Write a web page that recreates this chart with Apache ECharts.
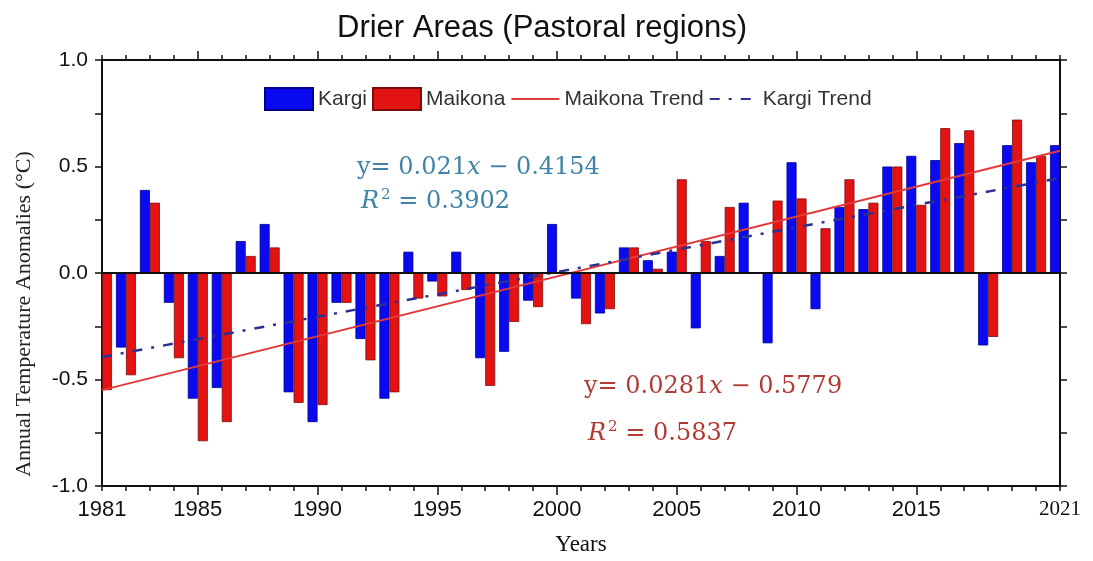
<!DOCTYPE html>
<html>
<head>
<meta charset="utf-8">
<script src="https://cdn.jsdelivr.net/npm/echarts@6/dist/echarts.min.js"></script>
<style>
  html, body { margin: 0; padding: 0; background: #fff; }
  #chart { width: 1093px; height: 561px; }
</style>
</head>
<body>
<div id="chart"></div>
<script>
// Annual temperature anomalies (°C), 1981–2021
const years = [
  1981, 1982, 1983, 1984, 1985, 1986, 1987, 1988, 1989, 1990,
  1991, 1992, 1993, 1994, 1995, 1996, 1997, 1998, 1999, 2000,
  2001, 2002, 2003, 2004, 2005, 2006, 2007, 2008, 2009, 2010,
  2011, 2012, 2013, 2014, 2015, 2016, 2017, 2018, 2019, 2020, 2021
];
const kargi = [
  null, -0.35, 0.39, -0.14, -0.59, -0.54, 0.15, 0.23, -0.56, -0.70,
  -0.14, -0.31, -0.59, 0.10, -0.04, 0.10, -0.40, -0.37, -0.13, 0.23,
  -0.12, -0.19, 0.12, 0.06, 0.10, -0.26, 0.08, 0.33, -0.33, 0.52,
  -0.17, 0.31, 0.30, 0.50, 0.55, 0.53, 0.61, -0.34, 0.60, 0.52, 0.60
];
const maikona = [
  -0.55, -0.48, 0.33, -0.40, -0.79, -0.70, 0.08, 0.12, -0.61, -0.62,
  -0.14, -0.41, -0.56, -0.12, -0.11, -0.08, -0.53, -0.23, -0.16, 0.00,
  -0.24, -0.17, 0.12, 0.02, 0.44, 0.15, 0.31, 0.00, 0.34, 0.35,
  0.21, 0.44, 0.33, 0.50, 0.32, 0.68, 0.67, -0.30, 0.72, 0.55, null
];

// Linear fits, x = year index (1981 -> 1)
const kargiFit = { slope: 0.021, intercept: -0.4154, r2: 0.3902 };
const maikonaFit = { slope: 0.0281, intercept: -0.5779, r2: 0.5837 };

const xLabelValues = [1981, 1985, 1990, 1995, 2000, 2005, 2010, 2015, 2021];
const xMajorTicks = [1985, 1990, 1995, 2000, 2005, 2010, 2015];

const firstYear = years[0];
const lastYear = years[years.length - 1];
function fitLine(fit) {
  return [firstYear, lastYear].map(y => [y, fit.slope * (y - firstYear + 1) + fit.intercept]);
}
const pairs = arr => years.map((y, i) => [y, arr[i]]);

const BLUE = '#0a0af2';
const RED = '#e41313';
const serif = "'Liberation Serif', 'Times New Roman', serif";
const sans = "'Liberation Sans', Arial, sans-serif";
const eqFont = "'DejaVu Serif', serif";

const chart = echarts.init(document.getElementById('chart'), null, { renderer: 'canvas' });

const frameLine = { lineStyle: { color: '#111', width: 2 } };

function eqText(fit, color) {
  const b = fit.intercept < 0 ? '\u2212 ' + Math.abs(fit.intercept) : '+ ' + fit.intercept;
  return {
    line1: '{n|y= ' + fit.slope + '}{i|x}{n| ' + b + '}',
    line2: '{i|R}{sup|2}{n| = ' + fit.r2.toFixed(4) + '}',
    rich: {
      n: { fontFamily: eqFont, fontSize: 24, fill: color, color: color },
      i: { fontFamily: eqFont, fontSize: 24, fontStyle: 'italic', fill: color, color: color },
      sup: { fontFamily: eqFont, fontSize: 15, fill: color, color: color, verticalAlign: 'top', padding: [0, 0, 12, 2] }
    }
  };
}
const kEq = eqText(kargiFit, '#3f84a6');
const mEq = eqText(maikonaFit, '#b23a34');

const option = {
  backgroundColor: '#fff',
  animation: false,
  title: {
    text: 'Drier Areas (Pastoral regions)',
    left: 537, top: 8, textAlign: 'center',
    textStyle: { fontFamily: sans, fontSize: 31, fontWeight: 'normal', color: '#111' }
  },
  legend: {
    left: 259, top: 82,
    itemWidth: 48, itemHeight: 22, itemGap: 5,
    textStyle: { fontFamily: sans, fontSize: 21, color: '#333' },
    data: [
      { name: 'Kargi', icon: 'rect' },
      { name: 'Maikona', icon: 'rect' },
      { name: 'Maikona Trend', itemStyle: { opacity: 0 } },
      { name: 'Kargi Trend', itemStyle: { opacity: 0 } }
    ]
  },
  grid: { left: 102, right: 33, top: 60, bottom: 72 },
  xAxis: [
    { // bottom, minor ticks every year
      type: 'value', position: 'bottom', min: firstYear, max: lastYear, interval: 1,
      axisLine: { onZero: false, ...frameLine },
      axisTick: { length: 5, lineStyle: { color: '#111', width: 1.5 } },
      axisLabel: { show: false }, splitLine: { show: false }
    },
    { // bottom, major ticks + labels
      type: 'value', position: 'bottom', min: firstYear, max: lastYear,
      axisLine: { show: false, onZero: false },
      axisTick: { customValues: xMajorTicks, length: 9, lineStyle: { color: '#111', width: 1.5 } },
      axisLabel: {
        customValues: xLabelValues, margin: 13,
        fontFamily: sans, fontSize: 22, color: '#111',
        formatter: v => v === lastYear ? '{s|' + v + '}' : String(v),
        rich: { s: { fontFamily: serif, fontSize: 21, color: '#111' } }
      },
      splitLine: { show: false },
      name: 'Years', nameLocation: 'middle', nameGap: 47,
      nameTextStyle: { fontFamily: serif, fontSize: 23, color: '#111' }
    },
    { // top frame, minor ticks
      type: 'value', position: 'top', min: firstYear, max: lastYear, interval: 1,
      axisLine: { onZero: false, ...frameLine },
      axisTick: { length: 5, lineStyle: { color: '#111', width: 1.5 } },
      axisLabel: { show: false }, splitLine: { show: false }
    },
    { // top frame, major ticks
      type: 'value', position: 'top', min: firstYear, max: lastYear,
      axisLine: { show: false, onZero: false },
      axisTick: { customValues: xMajorTicks, length: 9, lineStyle: { color: '#111', width: 1.5 } },
      axisLabel: { show: false }, splitLine: { show: false }
    }
  ],
  yAxis: [
    {
      type: 'value', position: 'left', min: -1, max: 1, interval: 0.25,
      axisLine: { onZero: false, ...frameLine },
      axisTick: { length: 7, lineStyle: { color: '#111', width: 1.5 } },
      axisLabel: {
        fontFamily: sans, fontSize: 21, color: '#111', margin: 14,
        formatter: v => (Math.abs(v * 2 - Math.round(v * 2)) < 1e-9 ? v.toFixed(1) : '')
      },
      splitLine: { show: false }
    },
    {
      type: 'value', position: 'right', min: -1, max: 1, interval: 0.25,
      axisLine: { onZero: false, ...frameLine },
      axisTick: { length: 7, lineStyle: { color: '#111', width: 1.5 } },
      axisLabel: { show: false }, splitLine: { show: false }
    }
  ],
  series: [
    {
      name: 'Kargi', type: 'bar', xAxisIndex: 0, yAxisIndex: 0,
      barWidth: 10, barGap: '0%',
      itemStyle: { color: BLUE, borderColor: '#00008c', borderWidth: 0.8 },
      data: pairs(kargi),
      markLine: {
        silent: true, symbol: 'none', label: { show: false },
        lineStyle: { color: '#111', width: 2, type: 'solid' },
        data: [{ yAxis: 0 }]
      },
      z: 2
    },
    {
      name: 'Maikona', type: 'bar', xAxisIndex: 0, yAxisIndex: 0,
      barWidth: 10, barGap: '0%',
      itemStyle: { color: RED, borderColor: '#7a0c0c', borderWidth: 0.8 },
      data: pairs(maikona),
      z: 2
    },
    {
      name: 'Maikona Trend', type: 'line', xAxisIndex: 0, yAxisIndex: 0,
      symbol: 'none', data: fitLine(maikonaFit),
      lineStyle: { color: '#e23a3a', width: 2 },
      itemStyle: { color: '#e23a3a' },
      z: 4
    },
    {
      name: 'Kargi Trend', type: 'line', xAxisIndex: 0, yAxisIndex: 0,
      symbol: 'none', data: fitLine(kargiFit),
      lineStyle: { color: '#2a3192', width: 2.5, type: [10, 9, 3, 9] },
      itemStyle: { color: '#2a3192' },
      z: 4
    }
  ],
  graphic: [
    {
      type: 'text', x: 24, y: 314, rotation: Math.PI / 2,
      style: {
        text: 'Annual Temperature Anomalies (°C)',
        font: "22px 'Liberation Serif', serif", fill: '#222',
        align: 'center', verticalAlign: 'middle'
      }
    },
    { type: 'text', left: 357, top: 156, style: { text: kEq.line1, rich: kEq.rich } },
    { type: 'text', left: 361, top: 188, style: { text: kEq.line2, rich: kEq.rich } },
    { type: 'text', left: 584, top: 375, style: { text: mEq.line1, rich: mEq.rich } },
    { type: 'text', left: 588, top: 420, style: { text: mEq.line2, rich: mEq.rich } }
  ]
};

chart.setOption(option);
</script>
</body>
</html>
